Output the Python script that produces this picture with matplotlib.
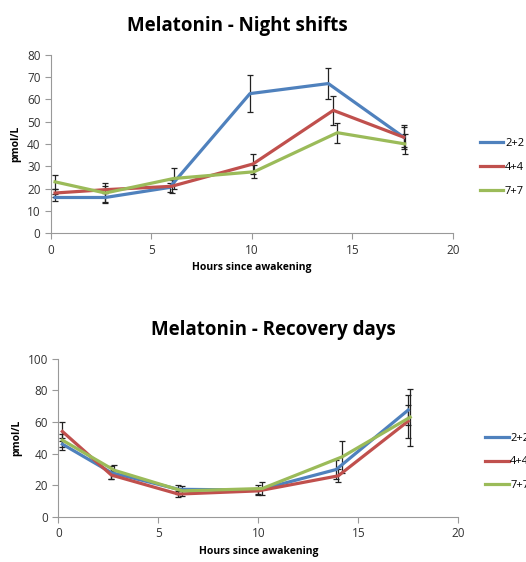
import matplotlib
matplotlib.use("Agg")
import matplotlib.pyplot as plt

plt.rcParams['font.family'] = ['Open Sans', 'DejaVu Sans']

groups = ["2+2", "4+4", "7+7"]
colors = ["#4F81BD", "#C0504D", "#9BBB59"]

# night shifts
night_x = [[0.2, 2.7, 5.9, 9.9, 13.8, 17.55],
           [0.2, 2.7, 6.0, 10.05, 14.05, 17.55],
           [0.2, 2.7, 6.1, 10.1, 14.25, 17.6]]
night_y = [[16, 16, 20.5, 62.5, 67, 43],
           [18, 19.5, 21, 31, 55, 43],
           [23, 18, 24.5, 27.5, 45, 40]]
night_err = [[1.5, 2, 2, 8.3, 7, 5.5],
             [2, 1.5, 3, 4.5, 6.5, 4.5],
             [3, 4.5, 4.5, 3, 4.5, 4.5]]

# recovery days
rec_x = [[0.2, 2.65, 6.0, 10.0, 13.9, 17.5],
         [0.2, 2.65, 6.0, 10.0, 14.0, 17.5],
         [0.2, 2.8, 6.2, 10.2, 14.2, 17.6]]
rec_y = [[46, 28, 17.5, 17, 30, 67.5],
         [54, 26.5, 14.5, 16.5, 26, 60.5],
         [48.5, 29.5, 16.5, 18, 38, 63]]
rec_err = [[4, 4, 3, 3, 6, 9.5],
           [6, 2.5, 2, 2, 4, 10.5],
           [4, 3.5, 3, 4, 10, 18]]


def draw_panel(ax, xs, ys, errs, title, ymax, ystep, title_x):
    for i in range(3):
        ax.errorbar(xs[i], ys[i], yerr=errs[i], color=colors[i], lw=2.3,
                    ecolor="#222222", elinewidth=0.9, capsize=2.5,
                    capthick=0.9, label=groups[i], zorder=3)
    ax.set_xlim(0, 20)
    ax.set_ylim(0, ymax)
    ax.set_xticks(range(0, 21, 5))
    ax.set_yticks(range(0, ymax + 1, ystep))
    for s in ["top", "right"]:
        ax.spines[s].set_visible(False)
    for s in ["left", "bottom"]:
        ax.spines[s].set_color("#999999")
    ax.tick_params(direction="out", length=4, color="#999999",
                   labelsize=8.5, labelcolor="#333333")
    ax.set_xlabel("Hours since awakening", fontsize=7.5, fontweight="bold")
    ax.set_ylabel("pmol/L", fontsize=7.5, fontweight="bold")
    ax.set_title(title, fontsize=13.5, fontweight="bold", pad=17, x=title_x)


fig = plt.figure(figsize=(5.26, 5.62), dpi=100)
ax1 = fig.add_axes([0.097, 0.585, 0.764, 0.318])
ax2 = fig.add_axes([0.111, 0.080, 0.760, 0.282])

draw_panel(ax1, night_x, night_y, night_err, "Melatonin - Night shifts",
           80, 10, 0.463)
draw_panel(ax2, rec_x, rec_y, rec_err, "Melatonin - Recovery days",
           100, 20, 0.537)

for ax, x, y in [(ax1, 0.902, 0.702), (ax2, 0.912, 0.178)]:
    h, l = ax.get_legend_handles_labels()
    h = [e[0] for e in h]
    fig.legend(h, l, loc="center left", bbox_to_anchor=(x, y),
               frameon=False, fontsize=8, handlelength=2.1,
               labelspacing=1.15, handletextpad=0.15, borderpad=0)

fig.savefig("out.png", dpi=100)
